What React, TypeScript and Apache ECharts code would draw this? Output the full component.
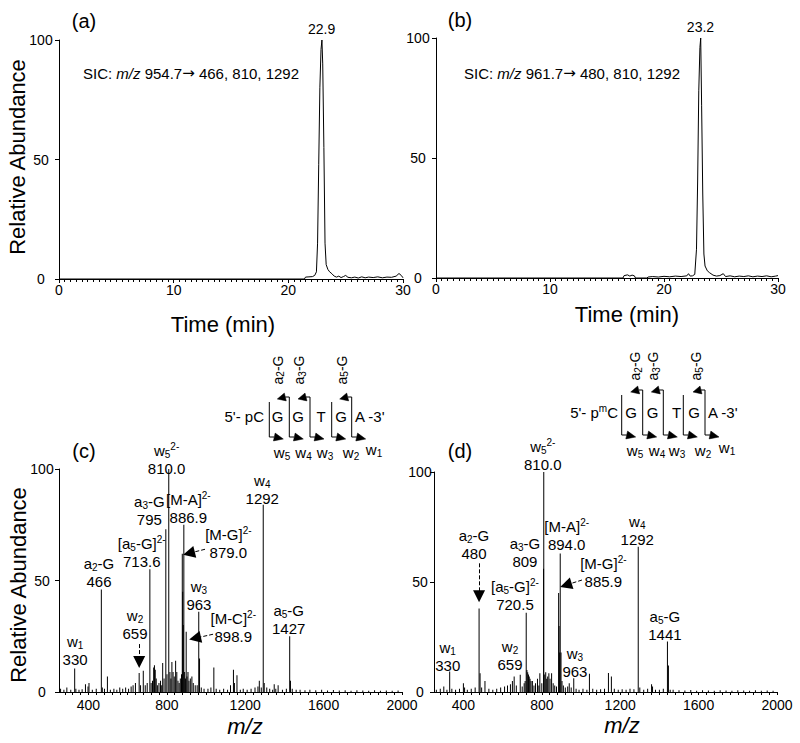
import React, { useEffect, useRef } from 'react';
import * as echarts from 'echarts';

const FONT = '"Liberation Sans", Arial, Helvetica, sans-serif';

// ---------- data ----------
// Chromatogram (a): [time (min), relative abundance]
const chromA: number[][] = [
  [0, 0], [21.4, 0], [21.5, 0.8], [21.8, 0.9], [22.1, 1.0], [22.3, 1.5], [22.45, 3], [22.55, 15], [22.65, 48],
  [22.75, 80], [22.85, 96], [22.93, 100], [23.0, 90], [23.1, 55], [23.2, 15], [23.3, 6], [23.45, 4], [23.6, 3],
  [23.8, 2.2], [24.0, 1.2], [24.2, 0.8], [24.4, 1.2], [24.6, 0.6], [24.8, 1.0], [25.0, 1.5], [25.2, 0.7],
  [25.5, 0.5], [25.8, 0.8], [26.1, 0.4], [26.4, 0.9], [26.7, 0.5], [27.0, 0.8], [27.4, 0.6], [27.8, 0.9],
  [28.2, 0.5], [28.6, 0.8], [29.0, 0.7], [29.4, 1.2], [29.65, 2.3], [29.85, 1.5], [30.0, 0.5],
];
// Chromatogram (b)
const chromB: number[][] = [
  [0, 0], [16.4, 0], [16.5, 1.0], [16.8, 1.3], [17.0, 0.8], [17.2, 1.2], [17.4, 0.9], [17.5, 0], [18.5, 0],
  [18.6, 0.4], [19.0, 0.6], [19.5, 0.4], [20.0, 0.7], [20.5, 0.5], [21.0, 0.8], [21.5, 0.6], [22.0, 0.9],
  [22.15, 1.8], [22.3, 0.8], [22.5, 0.9], [22.7, 1.5], [22.85, 12], [22.95, 40], [23.05, 78], [23.15, 96],
  [23.22, 100], [23.3, 72], [23.4, 35], [23.5, 10], [23.6, 5], [23.8, 3], [24.0, 2.2], [24.3, 1.2], [24.6, 0.8],
  [24.9, 1.0], [25.2, 1.8], [25.4, 0.6], [25.8, 0.9], [26.2, 0.5], [26.6, 0.8], [27.0, 0.6], [27.4, 0.9],
  [27.8, 0.5], [28.2, 0.8], [28.6, 0.6], [29.0, 0.9], [29.4, 0.5], [29.8, 0.8], [30.0, 1.0],
];
// Spectrum (c): [m/z, relative abundance]
const specC: number[][] = [
  [258, 1.5], [275, 1], [290, 2], [310, 1], [330, 10.5], [336, 1.5], [352, 1], [368, 1.2], [385, 3.5], [398, 2.5],
  [403, 4], [420, 1], [440, 1.5], [466, 46], [471, 2], [482, 1.5], [497, 7], [512, 1], [530, 1.5], [545, 1],
  [560, 2], [575, 1.5], [590, 2], [605, 1.5], [618, 2.5], [628, 3], [640, 4], [659, 8.5], [666, 3], [680, 9.5],
  [690, 3], [700, 4], [713.6, 55], [720, 4], [727, 5], [733, 11], [737, 12], [741, 10], [746, 6], [752, 3],
  [760, 4], [768, 5], [774, 3], [779, 13], [786, 6], [795, 73], [801, 8], [810, 100], [816, 9], [821, 6],
  [826, 13.5], [832, 9], [838, 7], [845, 14], [851, 9], [857, 5], [863, 4], [869, 6], [875, 8], [879, 62],
  [881, 45], [884, 30], [886.9, 75], [891, 9], [895, 6], [898.9, 27], [903, 7], [908, 9], [913, 5], [920, 6],
  [928, 7], [935, 4], [945, 3], [955, 3], [963, 36], [967, 15], [976, 2], [990, 1.5], [1010, 1.5], [1025, 2],
  [1040, 11], [1052, 1.5], [1070, 1], [1090, 1.5], [1110, 1], [1125, 3], [1140, 10], [1145, 4], [1158, 7.5],
  [1175, 1], [1190, 1.5], [1210, 1], [1230, 1.5], [1250, 2], [1265, 2.5], [1272, 5], [1282, 2], [1292, 84],
  [1297, 4], [1310, 2], [1325, 1.5], [1340, 1], [1348, 3.5], [1356, 1.5], [1368, 3], [1390, 1], [1410, 1.5],
  [1427, 25], [1431, 5], [1440, 1.5], [1460, 1], [1480, 1], [1505, 0.8], [1530, 1], [1560, 0.8], [1590, 1],
  [1620, 0.7], [1650, 0.9], [1680, 0.7], [1710, 0.8], [1740, 0.6], [1770, 0.8], [1800, 0.7], [1830, 0.6],
  [1860, 0.8], [1890, 0.6], [1920, 0.7], [1950, 0.6], [1980, 0.7],
];
// Spectrum (d)
const specD: number[][] = [
  [262, 1], [282, 1.5], [300, 2.5], [316, 1], [330, 9.3], [341, 1.5], [360, 1], [380, 1.5], [400, 4], [406, 2],
  [420, 1], [440, 1.5], [460, 2], [480, 38], [485, 8.5], [493, 2], [510, 5], [530, 1.5], [550, 1], [570, 1.5],
  [590, 2], [610, 2.5], [625, 3], [640, 3.5], [650, 5], [659, 7], [670, 3], [690, 7.8], [700, 2.5], [710, 4],
  [715, 5], [720.5, 36], [724, 10], [728, 9], [732, 8], [736, 7], [740, 6], [745, 5], [752, 5], [760, 3],
  [768, 4], [778, 6], [785, 3], [790, 8.5], [800, 4], [809, 56], [810, 100], [815, 8], [820, 9], [825, 6],
  [830, 7], [836, 8.5], [842, 6], [850, 8.5], [858, 4], [866, 3], [875, 2.5], [885.9, 45], [888, 30], [891, 18],
  [894, 63], [898, 18], [903, 5], [910, 3], [920, 2], [932, 2.5], [940, 4], [950, 2], [963, 6.3], [975, 1.5],
  [990, 1], [1010, 1.5], [1030, 1], [1043, 8.3], [1060, 1.5], [1080, 1], [1100, 1.2], [1120, 1.5], [1140, 8.6],
  [1155, 7], [1170, 1.5], [1190, 1], [1210, 1.2], [1230, 1], [1250, 1.5], [1270, 1.2], [1292, 66], [1300, 2],
  [1320, 1], [1340, 1.5], [1360, 3.5], [1365, 2.5], [1380, 1], [1400, 1], [1420, 1.5], [1441, 23], [1446, 12],
  [1455, 1], [1470, 1], [1500, 0.8], [1530, 0.7], [1560, 0.9], [1590, 0.6], [1620, 0.8], [1650, 0.7],
  [1680, 0.6], [1710, 0.8], [1740, 0.7], [1770, 0.6], [1800, 0.8], [1830, 0.7], [1860, 0.6], [1890, 0.8],
  [1920, 0.6], [1950, 0.7], [1980, 0.6],
];

const mzTickLabels = [400, 800, 1200, 1600, 2000];
const peakTimeA = 22.9;
const peakTimeB = 23.2;

// Peak annotations: text, anchor [m/z, abundance] of label bottom
const labelsC = [
  { text: 'w{sub|1}\n330', at: [332, 10.4] },
  { text: 'a{sub|2}-G\n466', at: [454, 45.4] },
  { text: 'w{sub|2}\n659', at: [638, 22.4] },
  { text: '[a{sub|5}-G]{sup|2-}\n713.6', at: [672, 54.4] },
  { text: 'a{sub|3}-G\n795', at: [711, 73.2] },
  { text: 'w{sub|5}{sup|2-}\n810.0', at: [799, 96.4] },
  { text: '[M-A]{sup|2-}\n886.9', at: [910, 74.4] },
  { text: '[M-G]{sup|2-}\n879.0', at: [1114, 58.4] },
  { text: 'w{sub|3}\n963', at: [964, 35.4] },
  { text: '[M-C]{sup|2-}\n898.9', at: [1139, 20.8] },
  { text: 'w{sub|4}\n1292', at: [1287, 82.9] },
  { text: 'a{sub|5}-G\n1427', at: [1422, 24.6] },
];
const labelsD = [
  { text: 'w{sub|1}\n330', at: [320, 7.8] },
  { text: 'a{sub|2}-G\n480', at: [454, 59] },
  { text: 'w{sub|2}\n659', at: [638, 8.3] },
  { text: '[a{sub|5}-G]{sup|2-}\n720.5', at: [663, 35.6] },
  { text: 'a{sub|3}-G\n809', at: [714, 55.3] },
  { text: 'w{sub|5}{sup|2-}\n810.0', at: [805, 99.1] },
  { text: '[M-A]{sup|2-}\n894.0', at: [927, 62.8] },
  { text: '[M-G]{sup|2-}\n885.9', at: [1114, 46.2] },
  { text: 'w{sub|3}\n963', at: [969, 5.3] },
  { text: 'w{sub|4}\n1292', at: [1287, 65.3] },
  { text: 'a{sub|5}-G\n1441', at: [1428, 22] },
];
// dashed arrows: from -> to (data coords)
const arrowsC = [
  { from: [659, 21.5], to: [659, 13.5] },
  { from: [995, 64], to: [913, 62.2] },
  { from: [1036, 25.9], to: [944, 24.1] },
];
const arrowsD = [
  { from: [480, 58.5], to: [480, 43.5] },
  { from: [1005, 50.9], to: [923, 48.6] },
];

// ---------- styles ----------
const rich = {
  sub: { fontSize: 10, fontFamily: FONT, lineHeight: 10, verticalAlign: 'bottom', color: '#000' },
  sup: { fontSize: 10, fontFamily: FONT, lineHeight: 10, verticalAlign: 'top', color: '#000' },
  i: { fontSize: 15, fontFamily: FONT, fontStyle: 'italic', color: '#000' },
};

const mzTicks: number[] = [];
for (let v = 280; v <= 2000; v += 40) mzTicks.push(v);

const zipPairs = (arr: number[][]) => arr.map((p) => [p[0], p[1]]);
const plain = (v: number) => String(v);

function yAxis(gridIndex: number, margin: number) {
  return {
    type: 'value', gridIndex, min: 0, max: 100, interval: 50,
    axisLine: { show: true, lineStyle: { color: '#000', width: 1 } },
    axisTick: { show: true, length: 4, lineStyle: { color: '#000' } },
    axisLabel: { color: '#000', fontSize: 14, fontFamily: FONT, align: 'center', margin, formatter: plain },
    splitLine: { show: false },
  };
}
function timeAxis(gridIndex: number) {
  return {
    type: 'value', gridIndex, min: 0, max: 30, interval: 10,
    axisLine: { show: true, onZero: false, lineStyle: { color: '#000', width: 1 } },
    axisTick: { show: true, length: 4, lineStyle: { color: '#000' } },
    minorTick: { show: true, splitNumber: 20, length: 3, lineStyle: { color: '#000' } },
    axisLabel: { color: '#000', fontSize: 14, fontFamily: FONT, margin: 4, lineHeight: 14, formatter: plain },
    splitLine: { show: false },
  };
}
function mzAxis(gridIndex: number) {
  return {
    type: 'value', gridIndex, min: 250, max: 2000,
    axisLine: { show: true, onZero: false, lineStyle: { color: '#000', width: 1 } },
    axisTick: { show: true, length: 3, customValues: mzTicks, lineStyle: { color: '#000' } },
    axisLabel: { color: '#000', fontSize: 14, fontFamily: FONT, margin: 6, lineHeight: 14, customValues: mzTickLabels, formatter: plain },
    splitLine: { show: false },
  };
}

function txt(x: number, y: number, text: string, size: number, opts: any = {}) {
  const align = opts.align || 'center';
  return {
    type: 'text', x, y, rotation: opts.rotation || 0, silent: true, z: 10,
    style: {
      text, fontSize: size, fontFamily: FONT, fontStyle: opts.italic ? 'italic' : 'normal',
      fill: '#000', align, verticalAlign: 'middle', textAlign: align, textVerticalAlign: 'middle',
      lineHeight: opts.lineHeight || size + 3,
      rich: {
        sub: { fontSize: Math.round(size * 0.68), fontFamily: FONT, lineHeight: 10, verticalAlign: 'bottom', fill: '#000' },
        sup: { fontSize: Math.round(size * 0.68), fontFamily: FONT, lineHeight: 10, verticalAlign: 'top', fill: '#000' },
        i: { fontSize: size, fontFamily: FONT, fontStyle: 'italic', fill: '#000' },
        ar: { fontSize: size, fontFamily: '"DejaVu Sans", sans-serif', fill: '#000' },
      },
    },
  };
}

function arrowHead(tip: number[], base: number[], half: number) {
  const dx = tip[0] - base[0];
  const dy = tip[1] - base[1];
  const len = Math.sqrt(dx * dx + dy * dy) || 1;
  const nx = -dy / len;
  const ny = dx / len;
  return {
    type: 'polygon', silent: true, z: 10,
    shape: { points: [tip, [base[0] + nx * half, base[1] + ny * half], [base[0] - nx * half, base[1] - ny * half]] },
    style: { fill: '#000', stroke: '#000', lineWidth: 0.5 },
  };
}

function diagram(cfg: any) {
  const els: any[] = [];
  els.push(txt(cfg.prefixRight, cfg.textY, cfg.prefix, 15, { align: 'right' }));
  cfg.bases.forEach((b: any) => els.push(txt(b.x, cfg.textY, b.t, 15)));
  els.push(txt(cfg.suffixLeft, cfg.textY, "A -3'", 15, { align: 'left' }));
  cfg.cuts.forEach((c: any) => {
    const top = c.a ? cfg.top : cfg.top + 5;
    els.push({ type: 'line', silent: true, z: 10, shape: { x1: c.x, y1: top, x2: c.x, y2: cfg.bot }, style: { stroke: '#000', lineWidth: 1 } });
    if (c.a) {
      els.push({ type: 'polyline', silent: true, z: 10, shape: { points: [[c.x, top], [c.x - 4, top]] }, style: { stroke: '#000', lineWidth: 1, fill: null } });
      els.push(arrowHead([c.x - 12, top + 2], [c.x - 4, top], 4));
    }
    els.push({ type: 'polyline', silent: true, z: 10, shape: { points: [[c.x, cfg.bot], [c.x + 5, cfg.bot]] }, style: { stroke: '#000', lineWidth: 1, fill: null } });
    els.push(arrowHead([c.x + 14, cfg.bot + 2], [c.x + 5, cfg.bot], 4));
  });
  cfg.aLabels.forEach((l: any) => els.push(txt(l.x, cfg.aY, l.t, 14, { rotation: Math.PI / 2, lineHeight: 16 })));
  cfg.wLabels.forEach((l: any) => els.push(txt(l.x, l.y, l.t, 15)));
  return els;
}

const diagC = diagram({
  prefix: "5'- pC", prefixRight: 264, textY: 416, suffixLeft: 355,
  bases: [{ t: 'G', x: 277.5 }, { t: 'G', x: 298 }, { t: 'T', x: 321 }, { t: 'G', x: 341 }],
  cuts: [{ x: 269.3, a: false }, { x: 289.3, a: true }, { x: 310, a: true }, { x: 331.7, a: false }, { x: 351.7, a: true }],
  top: 397, bot: 437, aY: 370,
  aLabels: [{ t: 'a{sub|2}-G', x: 277.5 }, { t: 'a{sub|3}-G', x: 299 }, { t: 'a{sub|5}-G', x: 341.5 }],
  wLabels: [
    { t: 'w{sub|5}', x: 282, y: 452 }, { t: 'w{sub|4}', x: 303.5, y: 452 }, { t: 'w{sub|3}', x: 325, y: 452 },
    { t: 'w{sub|2}', x: 351, y: 452 }, { t: 'w{sub|1}', x: 374, y: 449 },
  ],
});
const diagD = diagram({
  prefix: "5'- p{sup|m}C", prefixRight: 618, textY: 412, suffixLeft: 708,
  bases: [{ t: 'G', x: 631 }, { t: 'G', x: 652.5 }, { t: 'T', x: 676.7 }, { t: 'G', x: 694 }],
  cuts: [{ x: 621.7, a: false }, { x: 642.7, a: true }, { x: 663.3, a: true }, { x: 683.3, a: false }, { x: 705, a: true }],
  top: 390, bot: 435, aY: 366,
  aLabels: [{ t: 'a{sub|2}-G', x: 635 }, { t: 'a{sub|3}-G', x: 653 }, { t: 'a{sub|5}-G', x: 696 }],
  wLabels: [
    { t: 'w{sub|5}', x: 635, y: 450 }, { t: 'w{sub|4}', x: 657, y: 450 }, { t: 'w{sub|3}', x: 677, y: 450 },
    { t: 'w{sub|2}', x: 703, y: 450 }, { t: 'w{sub|1}', x: 727, y: 447 },
  ],
});

function labelSeries(gridIdx: number, labels: any[], arrows: any[]) {
  return {
    type: 'scatter', xAxisIndex: gridIdx, yAxisIndex: gridIdx, symbolSize: 0, silent: true, z: 5,
    itemStyle: { opacity: 1, color: '#000' },
    data: labels.map((l) => ({
      value: l.at,
      label: { show: true, formatter: l.text, position: 'top', distance: 0, color: '#000' },
    })),
    label: { show: true, color: '#000', fontSize: 15, fontFamily: FONT, lineHeight: 18, align: 'center', rich },
    markLine: {
      silent: true, symbol: ['none', 'triangle'], symbolSize: 12, animation: false,
      label: { show: false },
      lineStyle: { type: 'dashed', color: '#000', width: 1, opacity: 1 },
      emphasis: { disabled: true },
      data: arrows.map((a) => [{ coord: a.from }, { coord: a.to }]),
    },
  };
}

function peakTimeSeries(gridIdx: number, t: number) {
  return {
    type: 'scatter', xAxisIndex: gridIdx, yAxisIndex: gridIdx, symbolSize: 0, silent: true,
    itemStyle: { opacity: 1, color: '#000' },
    data: [[t, 100]],
    label: { show: true, position: 'top', distance: 4, formatter: t.toFixed(1), color: '#000', fontSize: 14, fontFamily: FONT },
  };
}

const option: any = {
  animation: false,
  backgroundColor: '#fff',
  grid: [
    { left: 59, top: 40, width: 344, height: 239 },
    { left: 436, top: 38, width: 342, height: 240 },
    { left: 59, top: 469, width: 343, height: 223 },
    { left: 434, top: 472, width: 343, height: 220 },
  ],
  xAxis: [timeAxis(0), timeAxis(1), mzAxis(2), mzAxis(3)],
  yAxis: [yAxis(0, 18), yAxis(1, 18), yAxis(2, 17), yAxis(3, 14)],
  series: [
    { type: 'line', xAxisIndex: 0, yAxisIndex: 0, data: zipPairs(chromA), showSymbol: false, symbol: 'none', silent: true, lineStyle: { color: '#000', width: 1 } },
    { type: 'line', xAxisIndex: 1, yAxisIndex: 1, data: zipPairs(chromB), showSymbol: false, symbol: 'none', silent: true, lineStyle: { color: '#000', width: 1 } },
    peakTimeSeries(0, peakTimeA),
    peakTimeSeries(1, peakTimeB),
    { type: 'bar', xAxisIndex: 2, yAxisIndex: 2, data: zipPairs(specC), barWidth: 1, silent: true, itemStyle: { color: '#000' } },
    { type: 'bar', xAxisIndex: 3, yAxisIndex: 3, data: zipPairs(specD), barWidth: 1, silent: true, itemStyle: { color: '#000' } },
    labelSeries(2, labelsC, arrowsC),
    labelSeries(3, labelsD, arrowsD),
  ],
  graphic: {
    elements: [
      txt(84, 21, '(a)', 20),
      txt(460, 20, '(b)', 20),
      txt(84, 451, '(c)', 20),
      txt(460, 451, '(d)', 20),
      txt(17, 157, 'Relative Abundance', 22, { rotation: Math.PI / 2 }),
      txt(18, 585, 'Relative Abundance', 22, { rotation: Math.PI / 2 }),
      txt(223, 324, 'Time (min)', 22, { lineHeight: 22 }),
      txt(627, 314, 'Time (min)', 22, { lineHeight: 22 }),
      txt(245, 726, 'm/z', 22, { italic: true, lineHeight: 22 }),
      txt(622, 725, 'm/z', 22, { italic: true, lineHeight: 22 }),
      txt(83, 73, 'SIC: {i|m/z} 954.7{ar|\u2192} 466, 810, 1292', 15, { align: 'left' }),
      txt(464, 73, 'SIC: {i|m/z} 961.7{ar|\u2192} 480, 810, 1292', 15, { align: 'left' }),
      ...diagC,
      ...diagD,
    ],
  },
};

export default function App() {
  const ref = useRef<HTMLDivElement>(null);
  useEffect(() => {
    if (!ref.current) return;
    const chart = echarts.init(ref.current, null, { renderer: 'svg' });
    chart.setOption(option);
    return () => chart.dispose();
  }, []);
  return <div ref={ref} style={{ position: 'absolute', left: 0, top: 0, width: 800, height: 743, background: '#fff' }} />;
}
